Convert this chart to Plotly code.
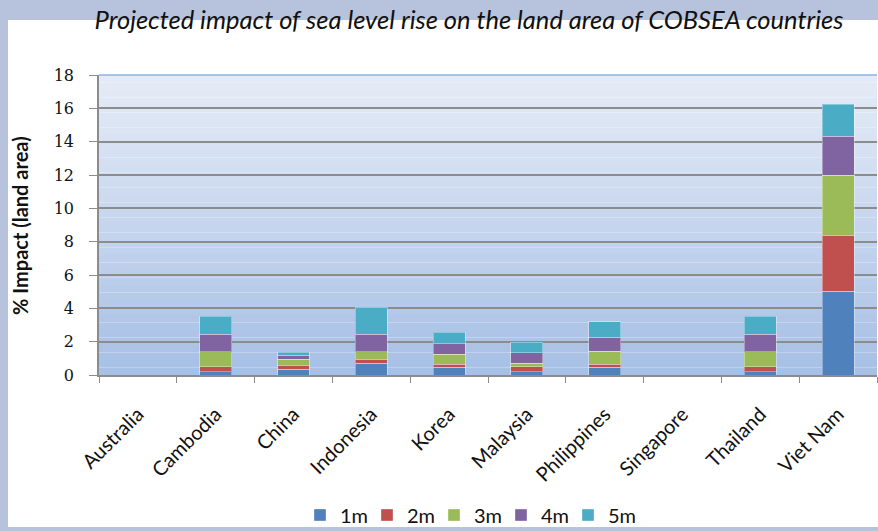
import plotly.graph_objects as go

categories = ["Australia", "Cambodia", "China", "Indonesia", "Korea",
              "Malaysia", "Philippines", "Singapore", "Thailand", "Viet Nam"]
series_names = ["1m", "2m", "3m", "4m", "5m"]
m1 = [0, 0.20, 0.34, 0.72, 0.48, 0.20, 0.48, 0, 0.20, 5.04]
m2 = [0, 0.30, 0.24, 0.24, 0.18, 0.30, 0.18, 0, 0.30, 3.34]
m3 = [0, 0.90, 0.36, 0.44, 0.60, 0.22, 0.76, 0, 0.90, 3.60]
m4 = [0, 1.04, 0.26, 1.04, 0.62, 0.62, 0.86, 0, 1.04, 2.36]
m5 = [0, 1.10, 0.16, 1.62, 0.70, 0.64, 0.92, 0, 1.10, 1.92]
series_values = [m1, m2, m3, m4, m5]
colors = ["#4F81BD", "#C0504D", "#9BBB59", "#8064A2", "#4BACC6"]
y_ticks = [0, 2, 4, 6, 8, 10, 12, 14, 16, 18]

W, H = 878, 531
L, R, T, B = 99, 1, 75, 156
pw, ph = W - L - R, H - T - B

fig = go.Figure()
for name, vals, col in zip(series_names, series_values, colors):
    fig.add_trace(go.Bar(x=categories, y=vals, name=name,
                         marker=dict(color=col, line=dict(color="rgba(255,255,255,0.35)", width=1))))

def px_x(p):
    return (p - L) / pw
def px_y(p):
    return (H - B - p) / ph

shapes = []
# white chart box
shapes.append(dict(type="rect", xref="paper", yref="paper",
                   x0=px_x(8), x1=px_x(880), y0=px_y(527), y1=px_y(20),
                   fillcolor="white", line=dict(width=0), layer="below"))
# gradient plot background
top_c = (230, 236, 246)
bot_c = (166, 191, 229)
N = 40
ymax = y_ticks[-1]
for i in range(N):
    t = (i + 0.5) / N
    c = tuple(round(bot_c[k] + (top_c[k] - bot_c[k]) * t) for k in range(3))
    shapes.append(dict(type="rect", xref="paper", yref="y",
                       x0=0, x1=1, y0=ymax * i / N, y1=ymax * (i + 1) / N,
                       fillcolor="rgb(%d,%d,%d)" % c, line=dict(width=0), layer="below"))
# top border line of the plot area
shapes.append(dict(type="line", xref="paper", yref="paper", x0=0, x1=1, y0=1, y1=1,
                   line=dict(color="#8DB3E2", width=1.5)))

fig.update_layout(
    width=W, height=H,
    margin=dict(l=L, r=R, t=T, b=B, pad=0, autoexpand=False),
    paper_bgcolor="#b7c3dc",
    plot_bgcolor="rgba(0,0,0,0)",
    barmode="stack",
    bargap=0.59,
    shapes=shapes,
    title=dict(text="<i>Projected impact of sea level rise on the land area of COBSEA countries</i>",
               font=dict(family="Lato", size=25.5, color="#111111"),
               xref="paper", x=px_x(469), xanchor="center",
               yref="container", y=1 - 20 / H, yanchor="middle"),
    legend=dict(orientation="h", x=px_x(300), xanchor="left",
                y=px_y(515), yanchor="middle",
                font=dict(family="Lato", size=20, color="#111111"),
                bgcolor="rgba(0,0,0,0)", traceorder="normal",
                entrywidth=22, entrywidthmode="pixels"),
    annotations=[dict(text="<b>% Impact (land area)</b>", textangle=-90,
                      xref="paper", yref="paper", x=px_x(20), y=px_y(226),
                      xanchor="center", yanchor="middle", showarrow=False,
                      font=dict(family="Lato", size=20, color="#111111"))],
    showlegend=True,
)
fig.update_yaxes(range=[0, 18], tickvals=y_ticks, showgrid=True,
                 gridcolor="#8c8c8c", gridwidth=1.5,
                 showline=True, linecolor="#8c8c8c", linewidth=1.5,
                 ticks="outside", ticklen=8, tickcolor="#8c8c8c",
                 ticklabelstandoff=12,
                 tickfont=dict(family="DejaVu Serif", size=16, color="#111111"),
                 zeroline=False)
fig.update_xaxes(showline=True, linecolor="#8c8c8c", linewidth=1.5,
                 ticks="outside", tickson="boundaries", ticklen=6, tickcolor="#8c8c8c",
                 tickangle=-45, ticklabelstandoff=18,
                 tickfont=dict(family="Lato", size=20, color="#111111"),
                 showgrid=False)

fig.write_html("out.html", config={"displayModeBar": False},
               post_script="document.body.style.margin='0px';document.body.style.overflow='hidden';")
